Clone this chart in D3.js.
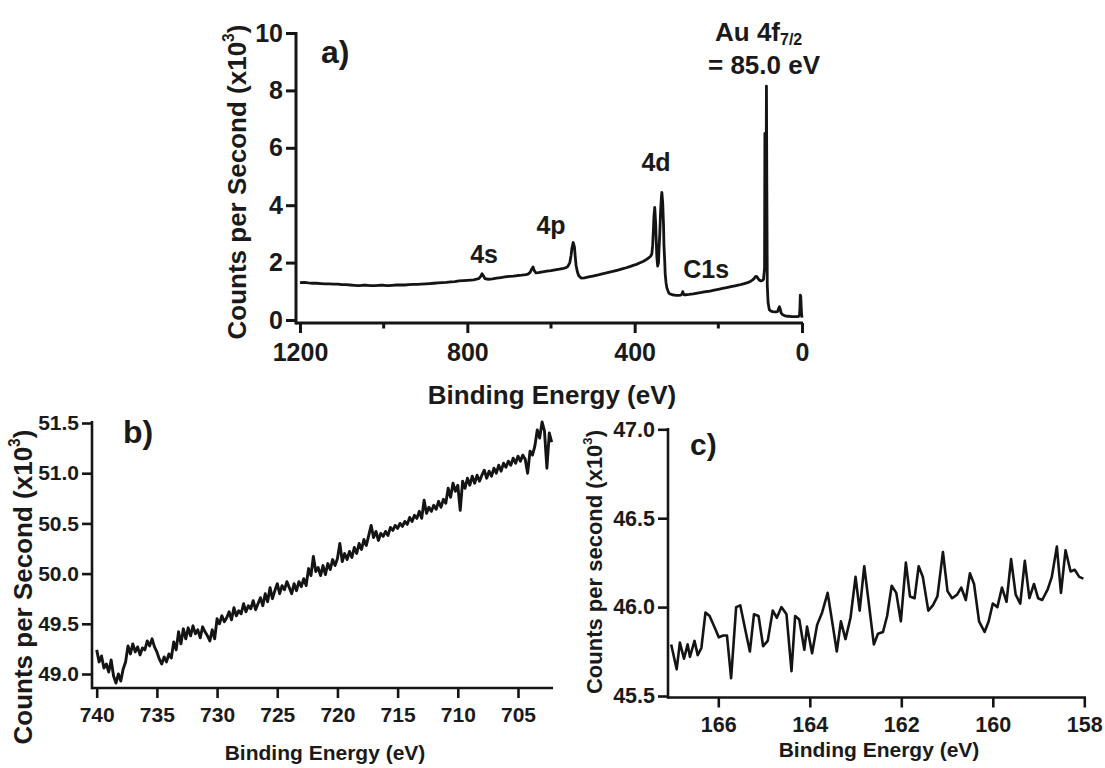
<!DOCTYPE html>
<html>
<head>
<meta charset="utf-8">
<script src="https://cdn.jsdelivr.net/npm/d3@7"></script>
<style>
  html, body { margin: 0; padding: 0; background: #fff; }
  svg { display: block; }
  text { font-family: "Liberation Sans", Arial, Helvetica, sans-serif; font-weight: bold; fill: #1a1a1a; }
</style>
</head>
<body>
<svg id="chart" width="1105" height="768"></svg>
<script>
// ---------- Panel a: survey spectrum ----------
const aEnergy = [1200,1190,1180,1170,1160,1150,1140,1130,1120,1110,1100,1090,1080,1070,1060,1050,1040,1030,1020,1010,1000,990,980,970,960,950,940,930,920,910,900,890,880,870,860,850,840,830,820,810,800,792,785,778,772,768,765,762,758,750,740,730,720,710,700,690,680,670,660,655,650,647,643,640,636,630,620,610,600,590,580,570,565,560,555,552,550,547,544,542,540,537,534,530,528,520,510,500,490,480,470,460,450,440,430,420,410,400,395,390,380,375,370,366,362,359,357,355,354,352,350,348,347,345,343,342,340,338,336,335,333,331,330,328,327,325,323,320,318,314,310,305,300,295,290,287,285,283,282,278,270,260,250,240,230,220,210,200,190,180,170,160,150,140,130,124,118,114,112,110,108,106,104,101,98,95,92,89.5,88.7,88,87,86,85,84,83,81,78,74,70,66,62,58,56,54,52,50,46,40,35,30,25,20,15,10,8,6,5,4,3,2,1,0];
const aCounts = [1.30,1.31,1.29,1.28,1.28,1.27,1.26,1.26,1.25,1.25,1.23,1.23,1.22,1.21,1.20,1.21,1.21,1.20,1.20,1.21,1.21,1.20,1.21,1.22,1.22,1.22,1.23,1.24,1.24,1.25,1.26,1.27,1.28,1.29,1.30,1.31,1.33,1.34,1.36,1.37,1.38,1.39,1.40,1.42,1.45,1.52,1.61,1.55,1.44,1.42,1.43,1.46,1.48,1.50,1.52,1.53,1.55,1.56,1.58,1.60,1.66,1.75,1.85,1.72,1.64,1.65,1.68,1.70,1.72,1.75,1.77,1.80,1.82,1.86,2.00,2.25,2.50,2.70,2.55,2.20,1.90,1.68,1.55,1.49,1.46,1.47,1.50,1.53,1.56,1.60,1.63,1.67,1.70,1.74,1.78,1.82,1.87,1.92,1.94,1.98,2.04,2.08,2.13,2.17,2.22,2.30,2.60,3.20,3.60,3.92,3.40,2.60,2.20,1.88,2.00,2.40,3.00,3.80,4.30,4.45,4.10,3.30,2.60,2.00,1.60,1.30,1.12,1.00,0.93,0.90,0.88,0.87,0.86,0.86,0.87,0.90,0.99,0.90,0.88,0.88,0.89,0.91,0.94,0.96,0.99,1.01,1.04,1.07,1.10,1.13,1.16,1.19,1.22,1.26,1.30,1.34,1.40,1.45,1.50,1.52,1.51,1.47,1.42,1.38,1.36,1.37,1.42,1.80,6.50,3.00,1.80,3.50,8.15,4.50,1.20,0.60,0.35,0.31,0.29,0.28,0.28,0.30,0.40,0.46,0.38,0.25,0.18,0.14,0.13,0.13,0.12,0.12,0.12,0.12,0.13,0.18,0.40,0.87,0.82,0.50,0.20,0.08,0.04];
const aXTicks = [1200, 800, 400, 0];
const aXMinorTicks = [1000, 600, 200];
const aYTicks = [0, 2, 4, 6, 8, 10];
const aPeakLabels = ["4s", "4p", "4d", "C1s"];
const aPeakEnergies = [760, 600, 349, 229];
const aPeakLabelHeights = [1.99, 3.0, 5.2, 1.46];

// ---------- Panel b: 740–702 eV window ----------
const bEnergy = [740.0,739.8,739.6,739.4,739.2,739.0,738.8,738.6,738.4,738.2,738.0,737.8,737.6,737.4,737.2,737.0,736.8,736.6,736.4,736.2,736.0,735.8,735.6,735.4,735.2,735.0,734.8,734.6,734.4,734.2,734.0,733.8,733.6,733.4,733.2,733.0,732.8,732.6,732.4,732.2,732.0,731.8,731.6,731.4,731.2,731.0,730.8,730.6,730.4,730.2,730.0,729.8,729.6,729.4,729.2,729.0,728.8,728.6,728.4,728.2,728.0,727.8,727.6,727.4,727.2,727.0,726.8,726.6,726.4,726.2,726.0,725.8,725.6,725.4,725.2,725.0,724.8,724.6,724.4,724.2,724.0,723.8,723.6,723.4,723.2,723.0,722.8,722.6,722.4,722.2,722.0,721.8,721.6,721.4,721.2,721.0,720.8,720.6,720.4,720.2,720.0,719.8,719.6,719.4,719.2,719.0,718.8,718.6,718.4,718.2,718.0,717.8,717.6,717.4,717.2,717.0,716.8,716.6,716.4,716.2,716.0,715.8,715.6,715.4,715.2,715.0,714.8,714.6,714.4,714.2,714.0,713.8,713.6,713.4,713.2,713.0,712.8,712.6,712.4,712.2,712.0,711.8,711.6,711.4,711.2,711.0,710.8,710.6,710.4,710.2,710.0,709.8,709.6,709.4,709.2,709.0,708.8,708.6,708.4,708.2,708.0,707.8,707.6,707.4,707.2,707.0,706.8,706.6,706.4,706.2,706.0,705.8,705.6,705.4,705.2,705.0,704.8,704.6,704.4,704.2,704.0,703.8,703.6,703.4,703.2,703.0,702.8,702.6,702.4,702.2];
const bCounts = [49.24,49.12,49.18,49.06,49.10,49.02,49.14,48.98,48.91,49.00,
  48.93,49.05,49.12,49.28,49.20,49.30,49.22,49.27,49.19,49.26,
  49.24,49.33,49.28,49.35,49.27,49.22,49.15,49.10,49.17,49.12,
  49.20,49.16,49.32,49.24,49.42,49.30,49.45,49.35,49.46,49.38,
  49.48,49.40,49.44,49.36,49.47,49.42,49.38,49.33,49.44,49.35,
  49.55,49.50,49.58,49.52,49.56,49.62,49.54,49.66,49.58,49.63,
  49.60,49.70,49.62,49.68,49.65,49.73,49.64,49.70,49.76,49.68,
  49.80,49.72,49.86,49.75,49.83,49.90,49.80,49.88,49.84,49.92,
  49.86,49.80,49.90,49.83,49.92,49.87,49.95,49.88,50.05,49.98,
  50.17,50.02,50.06,49.98,50.08,49.99,50.10,50.04,50.14,50.08,
  50.15,50.30,50.12,50.20,50.14,50.22,50.16,50.26,50.20,50.30,
  50.24,50.34,50.28,50.38,50.48,50.36,50.42,50.33,50.40,50.37,
  50.42,50.38,50.46,50.43,50.48,50.45,50.50,50.47,50.52,50.49,
  50.56,50.52,50.58,50.55,50.62,50.55,50.73,50.60,50.66,50.62,
  50.68,50.64,50.72,50.66,50.74,50.70,50.85,50.76,50.90,50.82,
  50.88,50.63,50.92,50.85,50.95,50.88,50.97,50.90,50.98,50.92,
  50.98,51.03,50.95,51.02,50.97,51.05,51.00,51.08,51.02,51.10,
  51.06,51.12,51.08,51.15,51.10,51.17,51.12,51.18,51.14,51.00,
  51.22,51.18,51.27,51.43,51.35,51.51,51.42,51.05,51.40,51.31];
const bXTicks = [740, 735, 730, 725, 720, 715, 710, 705];
const bYTicks = [49.0, 49.5, 50.0, 50.5, 51.0, 51.5];

// ---------- Panel c: 167–158 eV window ----------
const cEnergy = [167.03,166.91,166.84,166.75,166.67,166.62,166.52,166.45,166.37,166.28,166.19,166.07,165.99,165.89,165.81,165.72,165.61,165.52,165.40,165.31,165.22,165.12,165.02,164.92,164.81,164.72,164.62,164.51,164.40,164.32,164.23,164.12,164.06,163.95,163.84,163.73,163.61,163.50,163.41,163.32,163.22,163.11,163.00,162.91,162.81,162.70,162.60,162.51,162.40,162.31,162.21,162.11,162.01,161.90,161.81,161.71,161.62,161.53,161.41,161.31,161.21,161.09,160.99,160.89,160.78,160.69,160.59,160.50,160.41,160.30,160.18,160.09,160.00,159.90,159.80,159.70,159.60,159.50,159.40,159.30,159.20,159.10,159.01,158.92,158.80,158.71,158.60,158.51,158.41,158.30,158.21,158.11,158.02];
const cCounts = [45.79,45.65,45.80,45.71,45.79,45.72,45.81,45.73,45.77,45.97,45.95,45.88,45.83,45.84,45.84,45.60,46.00,46.01,45.86,45.75,45.96,45.95,45.78,45.81,45.98,45.94,46.00,45.96,45.64,45.95,45.93,45.76,45.89,45.74,45.90,45.97,46.08,45.90,45.75,45.92,45.82,45.94,46.17,45.98,46.23,46.00,45.79,45.85,45.86,45.95,46.12,46.08,45.92,46.25,46.06,46.05,46.23,46.17,45.98,46.01,46.06,46.31,46.09,46.05,46.07,46.11,46.04,46.19,46.13,45.92,45.86,45.92,46.02,46.00,46.11,46.03,46.27,46.07,46.02,46.26,46.05,46.13,46.05,46.04,46.10,46.17,46.34,46.08,46.32,46.20,46.21,46.17,46.16];
const cXTicks = [166, 164, 162, 160, 158];
const cYTicks = [45.5, 46.0, 46.5, 47.0];

// ---------- drawing ----------
const svg = d3.select("#chart");
const INK = "#141414";

function drawPanel(cfg) {
  const g = svg.append("g");
  const x = d3.scaleLinear().domain(cfg.xDomain).range(cfg.xRange);
  const y = d3.scaleLinear().domain(cfg.yDomain).range(cfg.yRange);

  // x axis
  const xa = g.append("g").attr("transform", `translate(0,${cfg.xAxisY})`)
    .call(d3.axisBottom(x).tickValues(cfg.xTicks).tickSize(cfg.tickLen)
      .tickPadding(cfg.xPad).tickSizeOuter(0).tickFormat(cfg.xFmt));
  xa.select(".domain").remove();
  xa.selectAll(".tick line").attr("stroke", INK).attr("stroke-width", cfg.axisW);
  xa.selectAll(".tick text").style("font-size", cfg.tickFont + "px").attr("fill", INK);
  if (cfg.xMinor) {
    g.append("g").attr("transform", `translate(0,${cfg.xAxisY})`)
      .selectAll("line").data(cfg.xMinor).join("line")
      .attr("x1", d => x(d)).attr("x2", d => x(d)).attr("y1", 0).attr("y2", cfg.tickLen * 0.55)
      .attr("stroke", INK).attr("stroke-width", cfg.axisW);
  }
  g.append("line").attr("x1", cfg.yAxisX).attr("x2", cfg.xAxisEnd)
    .attr("y1", cfg.xAxisY).attr("y2", cfg.xAxisY).attr("stroke", INK).attr("stroke-width", cfg.axisW);

  // y axis
  const ya = g.append("g").attr("transform", `translate(${cfg.yAxisX},0)`)
    .call(d3.axisLeft(y).tickValues(cfg.yTicks).tickSize(cfg.tickLen)
      .tickPadding(cfg.yPad).tickSizeOuter(0).tickFormat(cfg.yFmt));
  ya.select(".domain").remove();
  ya.selectAll(".tick line").attr("stroke", INK).attr("stroke-width", cfg.axisW);
  ya.selectAll(".tick text").style("font-size", cfg.tickFont + "px").attr("fill", INK);
  g.append("line").attr("x1", cfg.yAxisX).attr("x2", cfg.yAxisX)
    .attr("y1", cfg.yAxisTop).attr("y2", cfg.xAxisY + cfg.axisW / 2)
    .attr("stroke", INK).attr("stroke-width", cfg.axisW);

  // data
  const pts = cfg.energy.map((e, i) => [e, cfg.counts[i]]);
  g.append("path").datum(pts)
    .attr("d", d3.line().x(d => x(d[0])).y(d => y(d[1])))
    .attr("fill", "none").attr("stroke", INK).attr("stroke-width", cfg.lineW)
    .attr("stroke-linejoin", "round");

  // x label
  g.append("text").attr("x", cfg.xLabelX).attr("y", cfg.xLabelY)
    .attr("text-anchor", "middle").style("font-size", cfg.xLabelFont + "px")
    .text("Binding Energy (eV)");

  // y label
  const yl = g.append("text")
    .attr("transform", `translate(${cfg.yLabelX},${cfg.yLabelY}) rotate(-90)`)
    .attr("text-anchor", "middle").style("font-size", cfg.yLabelFont + "px");
  yl.append("tspan").text(cfg.yLabelText + " (x10");
  yl.append("tspan").attr("dy", -cfg.yLabelFont * 0.45).style("font-size", (cfg.yLabelFont * 0.6) + "px").text("3");
  yl.append("tspan").attr("dy", cfg.yLabelFont * 0.45).text(")");

  // panel letter
  g.append("text").attr("x", cfg.letterX).attr("y", cfg.letterY)
    .style("font-size", cfg.letterFont + "px").text(cfg.letter);

  return { g, x, y };
}

const fmt1 = d3.format(".1f");
const fmt0 = d3.format("d");

const A = drawPanel({
  xDomain: [1200, 0], xRange: [300, 802], yDomain: [0, 10], yRange: [320, 33],
  xAxisY: 323, yAxisX: 296, xAxisEnd: 803, yAxisTop: 32,
  xTicks: aXTicks, xMinor: aXMinorTicks, yTicks: aYTicks,
  tickLen: 10, xPad: 10, yPad: 3, tickFont: 25, axisW: 3, lineW: 2.8,
  xFmt: fmt0, yFmt: fmt0,
  energy: aEnergy, counts: aCounts,
  xLabelX: 552, xLabelY: 404, xLabelFont: 26,
  yLabelX: 246, yLabelY: 182, yLabelFont: 26, yLabelText: "Counts per Second",
  letter: "a)", letterX: 321, letterY: 63, letterFont: 32
});
// peak labels
A.g.selectAll("text.peak").data(aPeakLabels).join("text").attr("class", "peak")
  .attr("x", (d, i) => A.x(aPeakEnergies[i]))
  .attr("y", (d, i) => A.y(aPeakLabelHeights[i]))
  .attr("text-anchor", "middle").style("font-size", "25px").text(d => d);
// Au 4f annotation
const au = A.g.append("text").attr("x", 715).attr("y", 41).style("font-size", "26px");
au.append("tspan").text("Au 4f");
au.append("tspan").attr("dy", 4).style("font-size", "16px").text("7/2");
A.g.append("text").attr("x", 764).attr("y", 74).attr("text-anchor", "middle")
  .style("font-size", "26px").text("= 85.0 eV");

drawPanel({
  xDomain: [740, 705], xRange: [96.7, 518], yDomain: [49.0, 51.5], yRange: [674, 423],
  xAxisY: 688, yAxisX: 92, xAxisEnd: 553, yAxisTop: 421,
  xTicks: bXTicks, yTicks: bYTicks,
  tickLen: 10, xPad: 9, yPad: 3, tickFont: 21, axisW: 2.6, lineW: 2.9,
  xFmt: fmt0, yFmt: fmt1,
  energy: bEnergy, counts: bCounts,
  xLabelX: 325, xLabelY: 760, xLabelFont: 21,
  yLabelX: 32, yLabelY: 587, yLabelFont: 26, yLabelText: "Counts per Second",
  letter: "b)", letterX: 123, letterY: 443, letterFont: 32
});

drawPanel({
  xDomain: [166, 158], xRange: [718.3, 1084.3], yDomain: [45.5, 47.0], yRange: [696, 429.3],
  xAxisY: 697.5, yAxisX: 668, xAxisEnd: 1086, yAxisTop: 428,
  xTicks: cXTicks, yTicks: cYTicks,
  tickLen: 10, xPad: 9, yPad: 3, tickFont: 21.5, axisW: 2.6, lineW: 2.6,
  xFmt: fmt0, yFmt: fmt1,
  energy: cEnergy, counts: cCounts,
  xLabelX: 879, xLabelY: 757, xLabelFont: 21,
  yLabelX: 602, yLabelY: 562, yLabelFont: 22, yLabelText: "Counts per second",
  letter: "c)", letterX: 690, letterY: 455, letterFont: 30
});
</script>
</body>
</html>
